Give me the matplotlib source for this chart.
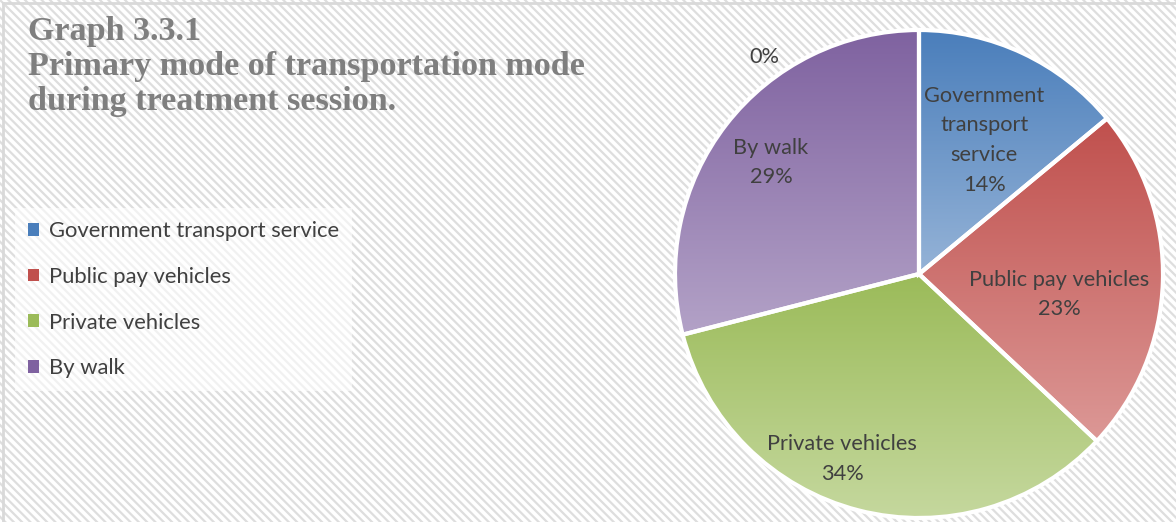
import numpy as np
import matplotlib
matplotlib.use("Agg")
import matplotlib.pyplot as plt
from matplotlib.colors import LinearSegmentedColormap
from matplotlib.lines import Line2D
from matplotlib.patches import Rectangle

plt.rcParams['hatch.linewidth'] = 1.6

# share of patients by mode of transport (last entry is an empty category)
modes = ["Government transport service", "Public pay vehicles",
         "Private vehicles", "By walk", ""]
shares = [14, 23, 34, 29, 0]
slice_labels = ["Government\ntransport\nservice\n14%", "Public pay vehicles\n23%",
                "Private vehicles\n34%", "By walk\n29%", "0%"]

# gradient ends for each slice: (top, bottom)
grad_colors = [("#4a7ebb", "#95b3d7"), ("#c0504d", "#dc9896"),
               ("#9bbb59", "#c5d89e"), ("#7f62a0", "#b3a2c7"), ("#ffffff", "#ffffff")]
# where each label sits, as (radius, angle in degrees) from the pie centre
label_pos = [(0.61, 64), (0.58, -8.3), (0.82, 247.5), (0.76, 143), (1.09, 125.5)]

W, H = 1176, 522
fig = plt.figure(figsize=(W / 100, H / 100), dpi=100)
fig.patch.set_facecolor("white")

# striped background
bg = fig.add_axes([0, 0, 1, 1])
bg.set_axis_off()
bg.add_patch(Rectangle((0, 0), 1, 1, transform=bg.transAxes, facecolor="white",
                       edgecolor="#dedede", linewidth=0, hatch="\\\\\\\\"))
bg.add_line(Line2D([3 / W, 3 / W], [0, 1 - 2.5 / H], color="#d9d9d9", lw=2, transform=bg.transAxes))
bg.add_line(Line2D([3 / W, 1], [1 - 2.5 / H, 1 - 2.5 / H], color="#d9d9d9", lw=2, transform=bg.transAxes))

fig.text(28 / W, 1 - 16 / H, "Graph 3.3.1\nPrimary mode of transportation mode\nduring treatment session.",
         ha="left", va="top", fontsize=24.6, fontweight="bold", color="#7f7f7f",
         family="Liberation Serif", linespacing=1.16)

# pie
cx, cy, R = 919, 248, 244
half = 260
ax = fig.add_axes([(cx - half) / W, (cy - half) / H, 2 * half / W, 2 * half / H])
ax.set_axis_off()
wedges, _ = ax.pie(shares, startangle=90, counterclock=False, radius=1,
                   wedgeprops=dict(facecolor="none", edgecolor="white", linewidth=3))

for w, (top, bottom) in zip(wedges, grad_colors):
    if w.theta2 - w.theta1 < 1e-6:
        continue
    ext = w.get_path().get_extents()
    cmap = LinearSegmentedColormap.from_list("g", [bottom, top])
    im = ax.imshow(np.linspace(0, 1, 256).reshape(-1, 1), cmap=cmap, origin="lower",
                   extent=[ext.x0, ext.x1, ext.y0, ext.y1], aspect="auto", zorder=1)
    im.set_clip_path(w)
    w.set_zorder(2)

lim = half / R
ax.set_xlim(-lim, lim)
ax.set_ylim(-lim, lim)

for text, (r, ang) in zip(slice_labels, label_pos):
    a = np.deg2rad(ang)
    ax.text(r * np.cos(a), r * np.sin(a), text, ha="center", va="center",
            fontsize=15.7, color="#404040", family="Lato", linespacing=1.6, zorder=3)

handles = [Rectangle((0, 0), 1, 1, facecolor=grad_colors[i][0], edgecolor="none") for i in range(4)]
leg = fig.legend(handles, modes[:4], loc="upper left", bbox_to_anchor=(15 / W, 1 - 208 / H),
                 frameon=True, fancybox=False, framealpha=0.6, edgecolor="none",
                 prop=dict(family="Lato", size=15.8), labelcolor="#404040",
                 handlelength=0.5, handleheight=0.5, handletextpad=0.45,
                 labelspacing=1.17, borderpad=0.6, borderaxespad=0)

fig.savefig("out.png", dpi=100)
